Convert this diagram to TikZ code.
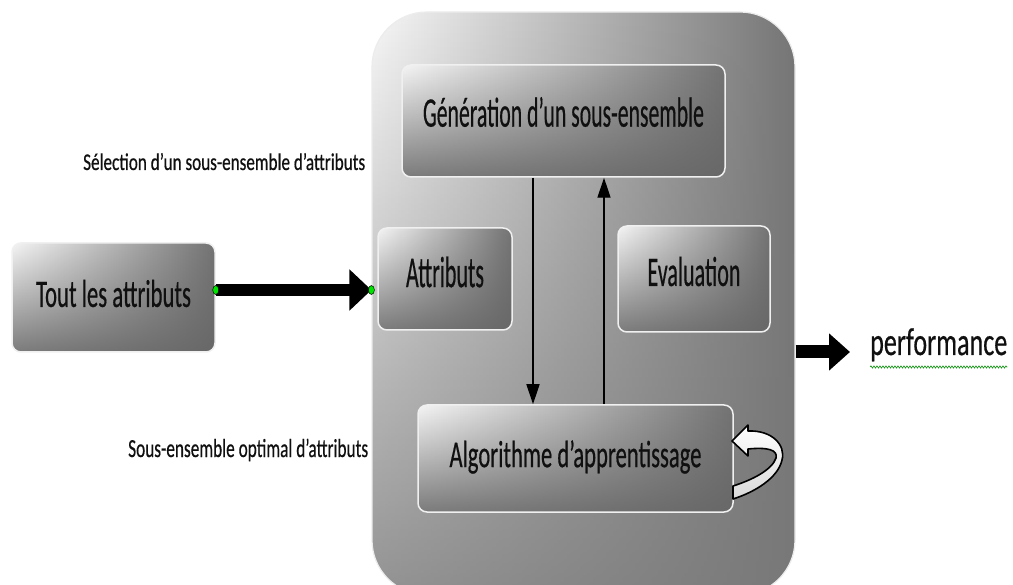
\documentclass[tikz,border=0pt]{standalone}
\usepackage{fontspec}
\setmainfont{Carlito}
\newfontfamily\heavy{Carlito}[FakeBold=0.6]
\usepackage{graphicx}
\usetikzlibrary{arrows.meta,fadings,decorations.pathmorphing,calc,shapes.geometric}
\tikzfading[name=fadeinner, top color=transparent!100, middle color=transparent!100, bottom color=transparent!0]
\tikzfading[name=fadeouter, top color=transparent!100, bottom color=transparent!0]
\newcommand{\fittext}[4]{\raisebox{#3}[\height][\depth]{\resizebox{#2}{\height}{\heavy\fontsize{#1}{#1}\selectfont #4}}}
\definecolor{txt}{HTML}{101010}
\tikzset{
  gbox/.style={rounded corners=9pt, draw=white!88!gray, line width=1.5pt, inner sep=0pt,
    left color=gray!8, middle color=gray!48, right color=gray!90!black, text=txt,
    path picture={\fill[gray!80!black, path fading=fadeinner, fill opacity=0.85]
      (path picture bounding box.north west) rectangle (path picture bounding box.south east);}},
  obox/.style={rounded corners=55pt, draw=white!85!gray, line width=1.2pt, inner sep=0pt,
    left color=gray!6, middle color=gray!45, right color=gray!92!black,
    path picture={\fill[gray!95!black, path fading=fadeouter, fill opacity=0.8]
      (path picture bounding box.north west) rectangle (path picture bounding box.south east);}},
  lbl/.style={anchor=base west, inner sep=0pt, text=txt},
  thickarrow/.style={line width=12pt, -{Triangle[length=22pt,width=40pt]}},
  thinarrow/.style={line width=1.4pt, -{Triangle[length=20pt,width=13pt]}},
  gdot/.style={ellipse, minimum width=6pt, minimum height=9pt, inner sep=0pt, fill=green!90!black, draw=black, line width=0.5pt},
  squiggle/.style={green!55!black, line width=0.6pt, decorate, decoration={snake, amplitude=1.1pt, segment length=3pt}},
}
\begin{document}
\begin{tikzpicture}[x=1pt,y=-1pt]
\clip (0,0) rectangle (1013,585);
\fill[white] (0,0) rectangle (1013,585);

% outer container
\node[obox, minimum width=423pt, minimum height=583pt] (outer) at (583.5,303.5) {};

% inner boxes
\node[gbox, minimum width=323pt, minimum height=112pt] (gen) at (563.5,121)
  {\fittext{42}{281pt}{9pt}{Génération d’un sous-ensemble}};
\node[gbox, minimum width=134pt, minimum height=102pt] (attr) at (445,279)
  {\fittext{44}{78pt}{7pt}{Attributs}};
\node[gbox, minimum width=152pt, minimum height=106pt] (eval) at (694,279)
  {\fittext{42}{93pt}{7.5pt}{Evaluation}};
\node[gbox, minimum width=315pt, minimum height=107pt] (algo) at (575.5,458.5)
  {\fittext{38}{252pt}{1.5pt}{Algorithme d’apprentissage}};
\node[gbox, minimum width=203pt, minimum height=109pt] (tout) at (113.5,297.5)
  {\fittext{39}{155pt}{4pt}{Tout les attributs}};

% side labels
\node[lbl] (sel) at (83,170) {\resizebox{282pt}{\height}{\heavy\fontsize{24}{24}\selectfont Sélection d’un sous-ensemble d’attributs}};
\node[lbl] (opt) at (128,457) {\resizebox{240pt}{\height}{\heavy\fontsize{26}{26}\selectfont Sous-ensemble optimal d’attributs}};
\node[lbl] (perf) at (870,355) {\resizebox{137pt}{\height}{\heavy\fontsize{39}{39}\selectfont performance}};
\draw[squiggle] ($(perf.base west)+(0,12)$) -- ($(perf.base east)+(0,12)$);

% connectors
\draw[thickarrow] (tout.east |- 0,290) -- (outer.west |- 0,290);
\node[gdot] at (tout.east |- 0,290) {};
\node[gdot] at (outer.west |- 0,290) {};

\draw[thinarrow] (gen.south -| 533,0) -- (algo.north -| 533,0);
\draw[thinarrow] (algo.north -| 604,0) -- (gen.south -| 604,0);

\draw[line width=13pt, -{Triangle[length=21pt,width=36pt]}] (outer.east |- 0,352) -- ($(perf.west |- 0,352)+(-20,0)$);

% self loop arrow on the learning algorithm
\draw[line width=1.6pt, line join=round, top color=white, bottom color=gray!30]
  (732,441) -- (748,425) -- (748,431) .. controls (772,430) and (786,445) .. (782,460)
  .. controls (778,478) and (755,492) .. (733,499) -- (733,486)
  .. controls (752,480) and (772,470) .. (776,458)
  .. controls (778,450) and (768,447) .. (748,449) -- (748,456) -- cycle;
\end{tikzpicture}
\end{document}
